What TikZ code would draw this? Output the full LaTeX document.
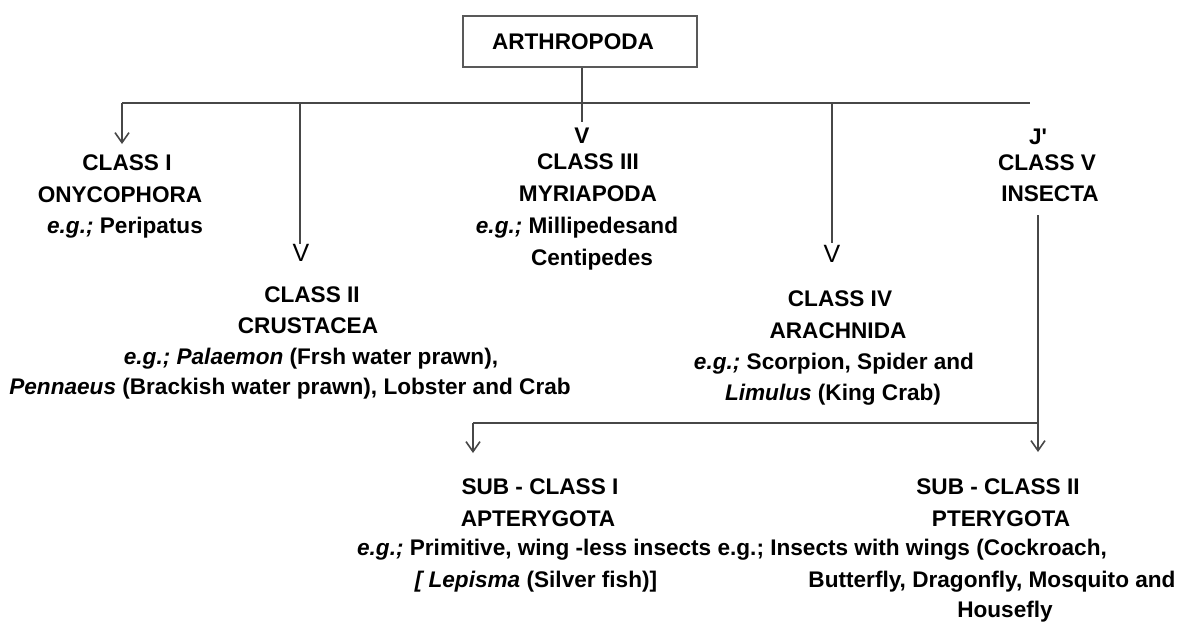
\documentclass[tikz,border=0pt]{standalone}
\usepackage{fontspec}
\setmainfont{Liberation Sans}
\newfontfamily\rawfont{Liberation Sans}
\usetikzlibrary{arrows.meta}
\begin{document}
\begin{tikzpicture}[x=1pt,y=-1pt,
  txt/.style={anchor=base, inner sep=0pt, font=\fontsize{22.6}{26}\selectfont\bfseries},
  vglyph/.style={anchor=base, inner sep=0pt, font=\fontsize{25}{28}\selectfont},
  conn/.style={draw=black!72, line width=1.8pt},
  tip/.style={-{Straight Barb[length=10pt,width=14pt,line width=1.6pt]}},
  rootbox/.style={draw=black!65, line width=2pt, minimum width=234pt, minimum height=51pt, inner sep=0pt, font=\fontsize{22.6}{26}\selectfont\bfseries}]
\useasboundingbox (0,0) rectangle (1184,622);
\fill[white] (0,0) rectangle (1184,622);

% root
\node[rootbox] (root) at (580,41.5) {ARTHROPODA\hspace*{14pt}};

% junction coordinates
\coordinate (j3) at (582,103);
\coordinate (hl) at (122,103);
\coordinate (hr) at (1030,103);
\coordinate (j2) at (300,103);
\coordinate (j4) at (832,103);
\coordinate (e1) at (122,144);
\coordinate (e2) at (300,244);
\coordinate (e3) at (582,122);
\coordinate (e4) at (832,243);
\coordinate (i0) at (1038,215);
\coordinate (i1) at (1038,423);
\coordinate (i2) at (473,423);
\coordinate (t1) at (473,453);
\coordinate (t2) at (1038,452);

% class labels
\node[txt] (c1a) at (127,170.5) {CLASS I};
\node[txt] (c1b) at (120,202.5) {ONYCOPHORA};
\node[txt] (c1c) at (125,233.5) {\itshape e.g.;\upshape{} Peripatus};

\node[vglyph] (c2v) at (301,261) {V};
\node[txt] (c2a) at (312,302.5) {CLASS II};
\node[txt] (c2b) at (308,333.5) {CRUSTACEA};
\node[txt] (c2c) at (311,364.5) {\itshape e.g.; Palaemon\upshape{} (Frsh water prawn),};
\node[txt] (c2d) at (290,394.5) {\itshape Pennaeus\upshape{} (Brackish water prawn), Lobster and Crab};

\node[txt] (c3v) at (582,143) {V};
\node[txt] (c3a) at (588,169.5) {CLASS III};
\node[txt] (c3b) at (588,201.5) {MYRIAPODA};
\node[txt] (c3c) at (577,233.5) {\itshape e.g.;\upshape{} Millipedesand};
\node[txt] (c3d) at (592,265.5) {Centipedes};

\node[vglyph] (c4v) at (832,262) {V};
\node[txt] (c4a) at (840,306.5) {CLASS IV};
\node[txt] (c4b) at (838,338.5) {ARACHNIDA};
\node[txt] (c4c) at (834,369.5) {\itshape e.g.;\upshape{} Scorpion, Spider and};
\node[txt] (c4d) at (833,400.5) {\itshape Limulus\upshape{} (King Crab)};

\node[txt] (c5j) at (1038,144.5) {\rawfont\bfseries J'};
\node[txt] (c5a) at (1047,170.5) {CLASS V};
\node[txt] (c5b) at (1050,201.5) {INSECTA};

% sub-classes
\node[txt] (s1a) at (540,494.5) {SUB - CLASS I};
\node[txt] (s1b) at (538,526.5) {APTERYGOTA};
\node[txt] (sl) at (732,555.5) {\itshape e.g.;\upshape{} Primitive, wing -less insects e.g.; Insects with wings (Cockroach,};
\node[txt] (s1d) at (536,587.5) {\itshape [ Lepisma\upshape{} (Silver fish)]};
\node[txt] (s2a) at (998,494.5) {SUB - CLASS II};
\node[txt] (s2b) at (1001,526.5) {PTERYGOTA};
\node[txt] (s2d) at (992,587.5) {Butterfly, Dragonfly, Mosquito and};
\node[txt] (s2e) at (1005,617.5) {Housefly};

% connectors
\draw[conn] (root.south -| j3) -- (j3) -- (e3);
\draw[conn] (hl) -- (hr);
\draw[conn,tip] (hl) -- (e1);
\draw[conn] (j2) -- (e2);
\draw[conn] (j4) -- (e4);
\draw[conn] (i0) -- (i1) -- (i2);
\draw[conn,tip] (i2) -- (t1);
\draw[conn,tip] (i1) -- (t2);
\end{tikzpicture}
\end{document}
